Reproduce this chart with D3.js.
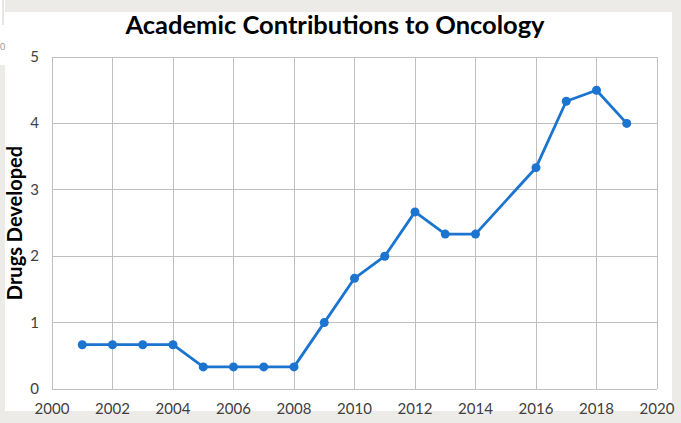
<!DOCTYPE html>
<html>
<head>
<meta charset="utf-8">
<script src="https://cdn.jsdelivr.net/npm/d3@7"></script>
<style>
  html, body { margin: 0; padding: 0; background: #ecebe7; }
  svg { display: block; }
</style>
</head>
<body>
<svg id="chart" width="681" height="423"></svg>
<script>
// data (2015 has no point)
const years = [2001, 2002, 2003, 2004, 2005, 2006, 2007, 2008, 2009, 2010, 2011, 2012, 2013, 2014, 2016, 2017, 2018, 2019];
const drugs = [0.667, 0.667, 0.667, 0.667, 0.333, 0.333, 0.333, 0.333, 1.0, 1.667, 2.0, 2.667, 2.333, 2.333, 3.333, 4.333, 4.5, 4.0];
const xTicks = [2000, 2002, 2004, 2006, 2008, 2010, 2012, 2014, 2016, 2018, 2020];
const yTicks = [0, 1, 2, 3, 4, 5];

const points = years.map((y, i) => ({ year: y, value: drugs[i] }));

const svg = d3.select("#chart");
const font = "Lato, 'Open Sans', sans-serif";

// background panels
svg.append("rect").attr("x", 5).attr("y", 12).attr("width", 667).attr("height", 399).attr("fill", "#fff");
svg.append("rect").attr("x", 0).attr("y", 0).attr("width", 5).attr("height", 65).attr("fill", "#fff");
svg.append("line").attr("x1", 3).attr("x2", 3).attr("y1", 0).attr("y2", 25).attr("stroke", "#ccc");
svg.append("text").attr("x", 0).attr("y", 50).attr("font-family", font).attr("font-size", 9).attr("fill", "#999").text("0");

const x = d3.scaleLinear().domain([2000, 2020]).range([52, 657]);
const y = d3.scaleLinear().domain([0, 5]).range([389, 57]);

// grid
svg.append("g").selectAll("line").data(xTicks).join("line")
  .attr("x1", d => x(d)).attr("x2", d => x(d))
  .attr("y1", y(0)).attr("y2", y(5))
  .attr("stroke", "#bfbfbf").attr("stroke-width", 1).attr("shape-rendering", "crispEdges");
svg.append("g").selectAll("line").data(yTicks).join("line")
  .attr("x1", x(2000)).attr("x2", x(2020))
  .attr("y1", d => y(d)).attr("y2", d => y(d))
  .attr("stroke", "#bfbfbf").attr("stroke-width", 1).attr("shape-rendering", "crispEdges");

// axes labels
svg.append("g").selectAll("text").data(xTicks).join("text")
  .attr("x", d => x(d)).attr("y", 414)
  .attr("text-anchor", "middle")
  .attr("font-family", font).attr("font-size", 15).attr("fill", "#404040")
  .text(d => d);
svg.append("g").selectAll("text").data(yTicks).join("text")
  .attr("x", 39).attr("y", d => y(d) + 5)
  .attr("text-anchor", "end")
  .attr("font-family", font).attr("font-size", 15).attr("fill", "#404040")
  .text(d => d);

// line + markers
svg.append("path").datum(points)
  .attr("d", d3.line().x(d => x(d.year)).y(d => y(d.value)))
  .attr("fill", "none").attr("stroke", "#1b74d0").attr("stroke-width", 2.8)
  .attr("stroke-linejoin", "round");
svg.append("g").selectAll("circle").data(points).join("circle")
  .attr("cx", d => x(d.year)).attr("cy", d => y(d.value)).attr("r", 4.5)
  .attr("fill", "#1b74d0");

// title
svg.append("text").attr("x", 335).attr("y", 34)
  .attr("text-anchor", "middle")
  .attr("font-family", font).attr("font-weight", "bold").attr("font-size", 25.5).attr("fill", "#000")
  .text("Academic Contributions to Oncology");

// y axis title
svg.append("text")
  .attr("transform", "translate(22,223) rotate(-90)")
  .attr("text-anchor", "middle")
  .attr("font-family", font).attr("font-weight", "bold").attr("font-size", 20).attr("fill", "#000")
  .text("Drugs Developed");
</script>
</body>
</html>
